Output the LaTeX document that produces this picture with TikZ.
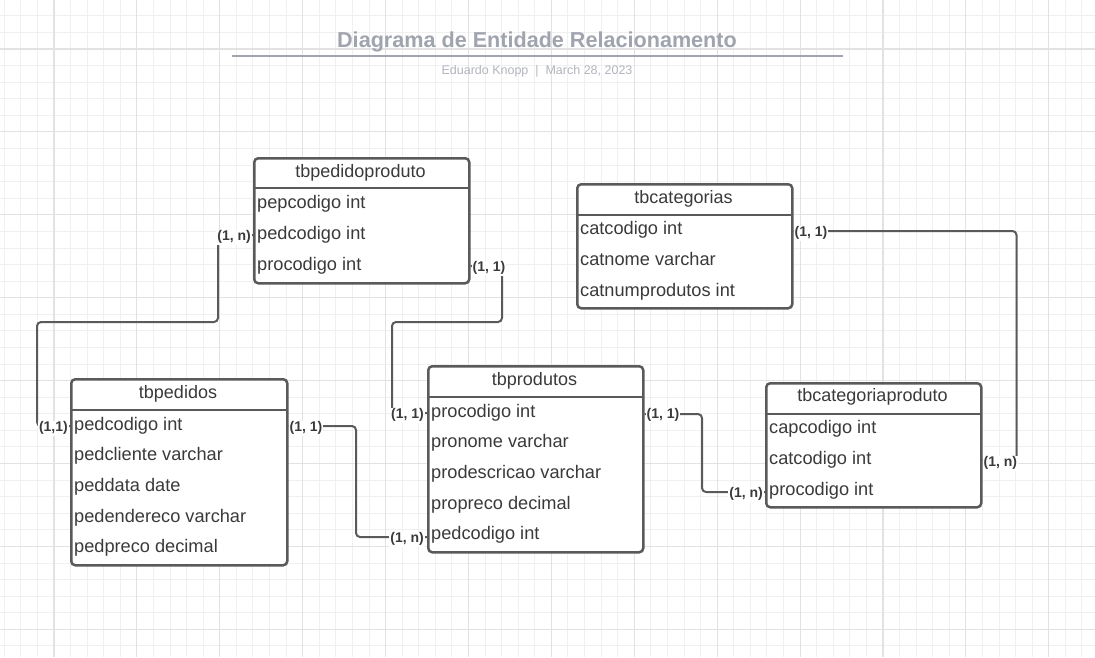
\documentclass[tikz,border=0pt]{standalone}
\usepackage{fontspec}
\setmainfont{Liberation Sans}
\usetikzlibrary{calc}
\definecolor{gminor}{HTML}{F0F0F0}
\definecolor{gmajor}{HTML}{E2E2E2}
\definecolor{bord}{HTML}{5A5A5A}
\definecolor{txt}{HTML}{3A3A3A}
\definecolor{ttl}{HTML}{A0A4AF}
\definecolor{subc}{HTML}{B2B5BD}
\tikzset{
 tbl/.style={draw=bord, line width=2.5pt, rounded corners=4pt, fill=white, inner sep=0pt, anchor=north west},
 hdr/.style={text=txt, font=\fontsize{18}{20}\selectfont, inner sep=0pt, text height=13pt, text depth=4pt, yshift=-1.5pt},
 fld/.style={text=txt, font=\fontsize{18.2}{20}\selectfont, inner sep=0pt, anchor=west, text height=13pt, text depth=4pt, yshift=-2pt},
 card/.style={text=txt, font=\bfseries\fontsize{14}{16}\selectfont, fill=white, inner sep=1pt, text height=10pt, text depth=3pt, yshift=-2pt},
 conn/.style={draw=bord, line width=2pt, rounded corners=4pt},
 divline/.style={draw=bord, line width=2.5pt},
}
\begin{document}
\begin{tikzpicture}[x=1pt,y=-1pt]
\useasboundingbox (0,0) rectangle (1095,657);
\fill[white] (0,0) rectangle (1095,657);
% grid
\foreach \i in {0,...,66} \draw[gminor, line width=1pt] ({4.26+16.58*\i},0) -- ({4.26+16.58*\i},657);
\foreach \i in {0,...,40} \draw[gminor, line width=1pt] (0,{-0.7+16.58*\i}) -- (1095,{-0.7+16.58*\i});
\foreach \i in {0,...,12} \draw[gmajor, line width=1.1pt] ({54+82.9*\i},0) -- ({54+82.9*\i},657);
\foreach \i in {0,...,7} \draw[gmajor, line width=1.1pt] (0,{49+82.9*\i}) -- (1095,{49+82.9*\i});

% title
\node[text=ttl, font=\bfseries\fontsize{21.6}{24}\selectfont, inner sep=0pt, yshift=-2pt] (title) at (537,40) {Diagrama de Entidade Relacionamento};
\draw[ttl, line width=1.5pt] (232,56) -- (843,56);
\node[text=subc, font=\fontsize{12.5}{14}\selectfont, inner sep=0pt, yshift=-2pt] (subt) at (537,69) {Eduardo Knopp \ | \ March 28, 2023};

% tbpedidoproduto
\node[tbl, minimum width=215pt, minimum height=125pt] (pedprod) at (253,157) {};
\node[hdr] (pedprodT) at (360.5,171) {tbpedidoproduto};
\draw[divline] (253,188) -- (468,188);
\node[fld] (pp1) at (257,202) {pepcodigo int};
\node[fld] (pp2) at (257,233) {pedcodigo int};
\node[fld] (pp3) at (257,264) {procodigo int};

% tbcategorias
\node[tbl, minimum width=215pt, minimum height=124pt] (categorias) at (576,183) {};
\node[hdr] (categoriasT) at (683.5,197) {tbcategorias};
\draw[divline] (576,215) -- (791,215);
\node[fld] (ct1) at (580,228) {catcodigo int};
\node[fld] (ct2) at (580,259) {catnome varchar};
\node[fld] (ct3) at (580,290) {catnumprodutos int};

% tbpedidos
\node[tbl, minimum width=216pt, minimum height=186pt] (pedidos) at (70,378) {};
\node[hdr] (pedidosT) at (178,392) {tbpedidos};
\draw[divline] (70,410) -- (286,410);
\node[fld] (ped1) at (74,424) {pedcodigo int};
\node[fld] (ped2) at (74,454) {pedcliente varchar};
\node[fld] (ped3) at (74,485) {peddata date};
\node[fld] (ped4) at (74,516) {pedendereco varchar};
\node[fld] (ped5) at (74,546) {pedpreco decimal};

% tbprodutos
\node[tbl, minimum width=215pt, minimum height=186pt] (produtos) at (427,365) {};
\node[hdr] (produtosT) at (534.5,379) {tbprodutos};
\draw[divline] (427,397) -- (642,397);
\node[fld] (pr1) at (431,411) {procodigo int};
\node[fld] (pr2) at (431,441) {pronome varchar};
\node[fld] (pr3) at (431,472) {prodescricao varchar};
\node[fld] (pr4) at (431,503) {propreco decimal};
\node[fld] (pr5) at (431,533) {pedcodigo int};

% tbcategoriaproduto
\node[tbl, minimum width=215pt, minimum height=124pt] (catprod) at (765,382) {};
\node[hdr] (catprodT) at (872.5,395) {tbcategoriaproduto};
\draw[divline] (765,414) -- (980,414);
\node[fld] (cp1) at (769,427) {capcodigo int};
\node[fld] (cp2) at (769,458) {catcodigo int};
\node[fld] (cp3) at (769,489) {procodigo int};

% connectors
\draw[conn] (pedidos.west |- ped1) -| (37,322) -| ($(pedprod.west |- pp2)+(-35,0)$) -- (pedprod.west |- pp2);
\draw[conn] (pedprod.east |- pp3) -| (502,322) -| ($(produtos.west |- pr1)+(-35,0)$) -- (produtos.west |- pr1);
\draw[conn] (pedidos.east |- ped1) -| ($(produtos.west |- pr5)+(-71,2)$) -- ($(produtos.west |- pr5)+(0,2)$);
\draw[conn] ($(produtos.east |- pr1)+(0,1)$) -| ($(catprod.west |- cp3)+(-63,1)$) -- ($(catprod.west |- cp3)+(0,1)$);
\draw[conn] ($(categorias.east |- ct1)+(0,1)$) -| ($(catprod.east |- cp2)+(34,0)$) -- (catprod.east |- cp2);

% cardinality labels
\node[card, anchor=east] (l1) at ($(pedprod.west |- pp2)+(-1,0)$) {(1, n)};
\node[card, anchor=east] (l2) at ($(pedidos.west |- ped1)+(-1,0)$) {(1,1)};
\node[card, anchor=west] (l3) at ($(pedprod.east |- pp3)+(1,0)$) {(1, 1)};
\node[card, anchor=east] (l4) at ($(produtos.west |- pr1)+(-2,0)$) {(1, 1)};
\node[card, anchor=west] (l5) at ($(pedidos.east |- ped1)+(0,0)$) {(1, 1)};
\node[card, anchor=east] (l6) at ($(produtos.west |- pr5)+(-2,2)$) {(1, n)};
\node[card, anchor=west] (l7) at ($(produtos.east |- pr1)+(1,0)$) {(1, 1)};
\node[card, anchor=east] (l8) at ($(catprod.west |- cp3)+(-1,1)$) {(1, n)};
\node[card, anchor=west] (l9) at ($(categorias.east |- ct1)+(0,1)$) {(1, 1)};
\node[card, anchor=west] (l10) at ($(catprod.east |- cp2)+(0,1)$) {(1, n)};
\end{tikzpicture}
\end{document}
